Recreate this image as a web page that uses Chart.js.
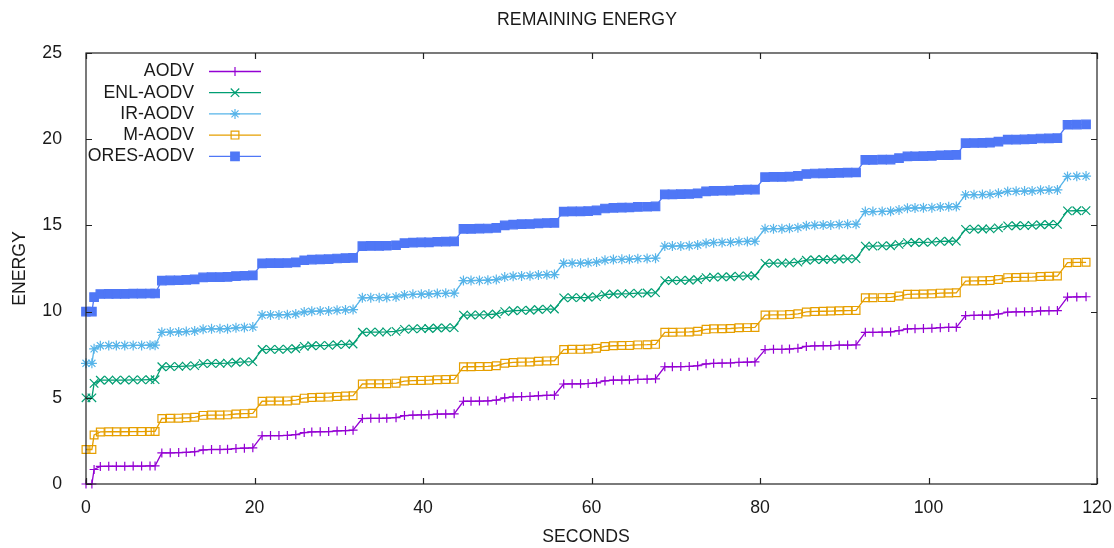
<!DOCTYPE html>
<html>
<head>
<meta charset="utf-8">
<script src="https://cdn.jsdelivr.net/npm/chart.js@4.4.1/dist/chart.umd.min.js"></script>
<style>
  body { margin: 0; background: #fff; }
  canvas { display: block; }
</style>
</head>
<body>
<canvas id="energyChart" width="1114" height="548"></canvas>
<script>
// Data
var seconds = [0, 0.7, 0.96, 1.7, 2.7, 3.6, 4.6, 5.6, 6.6, 7.6, 8.2,
    9.0, 10.0, 11.0, 11.9, 12.9, 13.9, 14.9, 15.9, 16.8, 17.8, 18.8, 19.8,
    20.9, 21.9, 22.9, 23.9, 24.9, 25.9, 26.8, 27.8, 28.8, 29.8, 30.8, 31.7,
    32.8, 33.8, 34.8, 35.7, 36.8, 37.8, 38.8, 39.8, 40.7, 41.7, 42.7, 43.7,
    44.8, 45.7, 46.7, 47.7, 48.7, 49.7, 50.7, 51.7, 52.7, 53.7, 54.7, 55.6,
    56.7, 57.7, 58.7, 59.6, 60.6, 61.6, 62.6, 63.6, 64.5, 65.5, 66.6, 67.6,
    68.7, 69.6, 70.6, 71.6, 72.6, 73.6, 74.5, 75.5, 76.5, 77.5, 78.5, 79.4,
    80.6, 81.6, 82.6, 83.5, 84.5, 85.5, 86.5, 87.5, 88.4, 89.4, 90.4, 91.4,
    92.5, 93.4, 94.5, 95.5, 96.5, 97.5, 98.4, 99.4, 100.4, 101.4, 102.4, 103.3,
    104.4, 105.4, 106.4, 107.3, 108.3, 109.4, 110.4, 111.4, 112.3, 113.3, 114.3, 115.3,
    116.5, 117.6, 118.7];

var aodv = [0, 0, 0.84, 1.02, 1.03, 1.03, 1.03, 1.04, 1.04, 1.05, 1.05,
    1.80, 1.81, 1.82, 1.84, 1.87, 1.98, 2.00, 2.00, 2.01, 2.06, 2.08, 2.10,
    2.80, 2.81, 2.81, 2.82, 2.86, 2.98, 3.02, 3.03, 3.04, 3.08, 3.10, 3.12,
    3.80, 3.81, 3.81, 3.82, 3.85, 3.97, 4.00, 4.01, 4.02, 4.05, 4.06, 4.07,
    4.80, 4.80, 4.81, 4.82, 4.86, 5.00, 5.05, 5.07, 5.08, 5.12, 5.14, 5.15,
    5.80, 5.81, 5.81, 5.83, 5.87, 5.98, 6.02, 6.03, 6.04, 6.07, 6.08, 6.10,
    6.80, 6.80, 6.81, 6.82, 6.86, 6.97, 7.00, 7.01, 7.02, 7.06, 7.07, 7.08,
    7.80, 7.81, 7.81, 7.83, 7.87, 7.98, 8.01, 8.02, 8.03, 8.05, 8.06, 8.07,
    8.80, 8.80, 8.81, 8.82, 8.90, 9.00, 9.01, 9.02, 9.03, 9.07, 9.08, 9.09,
    9.77, 9.78, 9.79, 9.80, 9.86, 9.97, 9.98, 9.99, 10.00, 10.04, 10.05, 10.06,
    10.84, 10.85, 10.86];

var enlAodv = [5, 5, 5.84, 6.02, 6.03, 6.03, 6.03, 6.04, 6.04, 6.05, 6.05,
    6.80, 6.81, 6.82, 6.84, 6.87, 6.98, 7.00, 7.00, 7.01, 7.06, 7.08, 7.10,
    7.80, 7.81, 7.81, 7.82, 7.86, 7.98, 8.02, 8.03, 8.04, 8.08, 8.10, 8.12,
    8.80, 8.81, 8.81, 8.82, 8.85, 8.97, 9.00, 9.01, 9.02, 9.05, 9.06, 9.07,
    9.80, 9.80, 9.81, 9.82, 9.86, 10.00, 10.05, 10.07, 10.08, 10.12, 10.14, 10.15,
    10.80, 10.81, 10.81, 10.83, 10.87, 10.98, 11.02, 11.03, 11.04, 11.07, 11.08, 11.10,
    11.80, 11.80, 11.81, 11.82, 11.86, 11.97, 12.00, 12.01, 12.02, 12.06, 12.07, 12.08,
    12.80, 12.81, 12.81, 12.83, 12.87, 12.98, 13.01, 13.02, 13.03, 13.05, 13.06, 13.07,
    13.80, 13.80, 13.81, 13.82, 13.90, 14.00, 14.01, 14.02, 14.03, 14.07, 14.08, 14.09,
    14.77, 14.78, 14.79, 14.80, 14.86, 14.97, 14.98, 14.99, 15.00, 15.04, 15.05, 15.06,
    15.84, 15.85, 15.86];

var irAodv = [7, 7, 7.84, 8.02, 8.03, 8.03, 8.03, 8.04, 8.04, 8.05, 8.05,
    8.80, 8.81, 8.82, 8.84, 8.87, 8.98, 9.00, 9.00, 9.01, 9.06, 9.08, 9.10,
    9.80, 9.81, 9.81, 9.82, 9.86, 9.98, 10.02, 10.03, 10.04, 10.08, 10.10, 10.12,
    10.80, 10.81, 10.81, 10.82, 10.85, 10.97, 11.00, 11.01, 11.02, 11.05, 11.06, 11.07,
    11.80, 11.80, 11.81, 11.82, 11.86, 12.00, 12.05, 12.07, 12.08, 12.12, 12.14, 12.15,
    12.80, 12.81, 12.81, 12.83, 12.87, 12.98, 13.02, 13.03, 13.04, 13.07, 13.08, 13.10,
    13.80, 13.80, 13.81, 13.82, 13.86, 13.97, 14.00, 14.01, 14.02, 14.06, 14.07, 14.08,
    14.80, 14.81, 14.81, 14.83, 14.87, 14.98, 15.01, 15.02, 15.03, 15.05, 15.06, 15.07,
    15.80, 15.80, 15.81, 15.82, 15.90, 16.00, 16.01, 16.02, 16.03, 16.07, 16.08, 16.09,
    16.77, 16.78, 16.79, 16.80, 16.86, 16.97, 16.98, 16.99, 17.00, 17.04, 17.05, 17.06,
    17.84, 17.85, 17.86];

var mAodv = [2, 2, 2.84, 3.02, 3.03, 3.03, 3.03, 3.04, 3.04, 3.05, 3.05,
    3.80, 3.81, 3.82, 3.84, 3.87, 3.98, 4.00, 4.00, 4.01, 4.06, 4.08, 4.10,
    4.80, 4.81, 4.81, 4.82, 4.86, 4.98, 5.02, 5.03, 5.04, 5.08, 5.10, 5.12,
    5.80, 5.81, 5.81, 5.82, 5.85, 5.97, 6.00, 6.01, 6.02, 6.05, 6.06, 6.07,
    6.80, 6.80, 6.81, 6.82, 6.86, 7.00, 7.05, 7.07, 7.08, 7.12, 7.14, 7.15,
    7.80, 7.81, 7.81, 7.83, 7.87, 7.98, 8.02, 8.03, 8.04, 8.07, 8.08, 8.10,
    8.80, 8.80, 8.81, 8.82, 8.86, 8.97, 9.00, 9.01, 9.02, 9.06, 9.07, 9.08,
    9.80, 9.81, 9.81, 9.83, 9.87, 9.98, 10.01, 10.02, 10.03, 10.05, 10.06, 10.07,
    10.80, 10.80, 10.81, 10.82, 10.90, 11.00, 11.01, 11.02, 11.03, 11.07, 11.08, 11.09,
    11.77, 11.78, 11.79, 11.80, 11.86, 11.97, 11.98, 11.99, 12.00, 12.04, 12.05, 12.06,
    12.84, 12.85, 12.86];

var oresAodv = [10, 10, 10.84, 11.02, 11.03, 11.03, 11.03, 11.04, 11.04, 11.05, 11.05,
    11.80, 11.81, 11.82, 11.84, 11.87, 11.98, 12.00, 12.00, 12.01, 12.06, 12.08, 12.10,
    12.80, 12.81, 12.81, 12.82, 12.86, 12.98, 13.02, 13.03, 13.04, 13.08, 13.10, 13.12,
    13.80, 13.81, 13.81, 13.82, 13.85, 13.97, 14.00, 14.01, 14.02, 14.05, 14.06, 14.07,
    14.80, 14.80, 14.81, 14.82, 14.86, 15.00, 15.05, 15.07, 15.08, 15.12, 15.14, 15.15,
    15.80, 15.81, 15.81, 15.83, 15.87, 15.98, 16.02, 16.03, 16.04, 16.07, 16.08, 16.10,
    16.80, 16.80, 16.81, 16.82, 16.86, 16.97, 17.00, 17.01, 17.02, 17.06, 17.07, 17.08,
    17.80, 17.81, 17.81, 17.83, 17.87, 17.98, 18.01, 18.02, 18.03, 18.05, 18.06, 18.07,
    18.80, 18.80, 18.81, 18.82, 18.90, 19.00, 19.01, 19.02, 19.03, 19.07, 19.08, 19.09,
    19.77, 19.78, 19.79, 19.80, 19.86, 19.97, 19.98, 19.99, 20.00, 20.04, 20.05, 20.06,
    20.84, 20.85, 20.86];

var xTicks = [0, 20, 40, 60, 80, 100, 120];
var yTicks = [0, 5, 10, 15, 20, 25];

var FONT = '"Liberation Sans", Arial, sans-serif';
var FONT_SIZE = 17.7;

function series(label, values, color, style, radius, fillColor) {
    return {
        label: label,
        data: seconds.map((s, i) => ({ x: s, y: values[i] })),
        borderColor: color,
        borderWidth: 1.3,
        pointStyle: style,
        pointRadius: radius,
        pointBorderWidth: 1.2,
        pointBorderColor: color,
        pointBackgroundColor: fillColor || 'rgba(0,0,0,0)',
        tension: 0,
        fill: false,
        clip: false
    };
}

// Frame, inward ticks, titles and gnuplot-like legend
var gnuplotLook = {
    id: 'gnuplotLook',
    afterDatasetsDraw(chart) {
        var ctx = chart.ctx;
        var area = chart.chartArea;
        var xs = chart.scales.x, ys = chart.scales.y;
        ctx.save();

        ctx.strokeStyle = '#222';
        ctx.lineWidth = 1.2;
        ctx.strokeRect(area.left, area.top, area.right - area.left, area.bottom - area.top);

        var tick = 6;
        ctx.beginPath();
        xTicks.forEach(v => {
            var px = Math.round(xs.getPixelForValue(v)) + 0.5;
            ctx.moveTo(px, area.bottom); ctx.lineTo(px, area.bottom - tick);
            ctx.moveTo(px, area.top); ctx.lineTo(px, area.top + tick);
        });
        yTicks.forEach(v => {
            var py = Math.round(ys.getPixelForValue(v)) + 0.5;
            ctx.moveTo(area.left, py); ctx.lineTo(area.left + tick, py);
            ctx.moveTo(area.right, py); ctx.lineTo(area.right - tick, py);
        });
        ctx.stroke();

        ctx.fillStyle = '#1a1a1a';
        ctx.font = FONT_SIZE + 'px ' + FONT;
        ctx.textAlign = 'center';
        ctx.textBaseline = 'middle';
        ctx.fillText('REMAINING ENERGY', 587, 20);
        ctx.fillText('SECONDS', 586, 537);

        ctx.save();
        ctx.translate(20, (area.top + area.bottom) / 2);
        ctx.rotate(-Math.PI / 2);
        ctx.fillText('ENERGY', 0, 0);
        ctx.restore();

        // legend
        chart.data.datasets.forEach((ds, i) => {
            var y = 71.5 + i * 21.2;
            ctx.textAlign = 'right';
            ctx.fillStyle = '#1a1a1a';
            ctx.fillText(ds.label, 194, y);
            ctx.strokeStyle = ds.borderColor;
            ctx.lineWidth = ds.borderWidth;
            ctx.beginPath();
            ctx.moveTo(209, y); ctx.lineTo(261, y);
            ctx.stroke();
            ctx.fillStyle = ds.pointBackgroundColor;
            ctx.lineWidth = ds.pointBorderWidth;
            if (Chart.helpers && Chart.helpers.drawPoint) {
                Chart.helpers.drawPoint(ctx, {
                    pointStyle: ds.pointStyle,
                    radius: ds.pointRadius,
                    borderWidth: ds.pointBorderWidth,
                    rotation: 0
                }, 235, y);
            }
        });
        ctx.restore();
    }
};

new Chart(
    document.getElementById('energyChart'),
    {
        type: 'line',
        data: {
            datasets: [
                series('AODV', aodv, '#9400d3', 'cross', 4.5),
                series('ENL-AODV', enlAodv, '#009e73', 'crossRot', 6),
                series('IR-AODV', irAodv, '#56b4e9', 'star', 5),
                series('M-AODV', mAodv, '#e69f00', 'rect', 5.5),
                series('ORES-AODV', oresAodv, '#4f77f6', 'rect', 6, '#4f77f6')
            ]
        },
        options: {
            responsive: false,
            animation: false,
            layout: {
                padding: { left: 0, top: 53, right: 17, bottom: 0 }
            },
            plugins: {
                legend: { display: false },
                title: { display: false },
                tooltip: { enabled: false }
            },
            scales: {
                x: {
                    type: 'linear',
                    min: 0,
                    max: 120,
                    grid: { display: false },
                    border: { display: false },
                    afterBuildTicks: function (scale) {
                        scale.ticks = xTicks.map(v => ({ value: v }));
                    },
                    ticks: {
                        padding: 5,
                        color: '#1a1a1a',
                        font: { family: FONT, size: FONT_SIZE },
                        maxRotation: 0
                    },
                    afterFit: function (scale) {
                        scale.height = 64;
                        scale.paddingLeft = 0;
                        scale.paddingRight = 0;
                    }
                },
                y: {
                    min: 0,
                    max: 25,
                    grid: { display: false },
                    border: { display: false },
                    afterBuildTicks: function (scale) {
                        scale.ticks = yTicks.map(v => ({ value: v }));
                    },
                    ticks: {
                        padding: 16,
                        color: '#1a1a1a',
                        font: { family: FONT, size: FONT_SIZE }
                    },
                    afterFit: function (scale) {
                        scale.width = 86;
                    }
                }
            }
        },
        plugins: [gnuplotLook]
    }
);
</script>
</body>
</html>
